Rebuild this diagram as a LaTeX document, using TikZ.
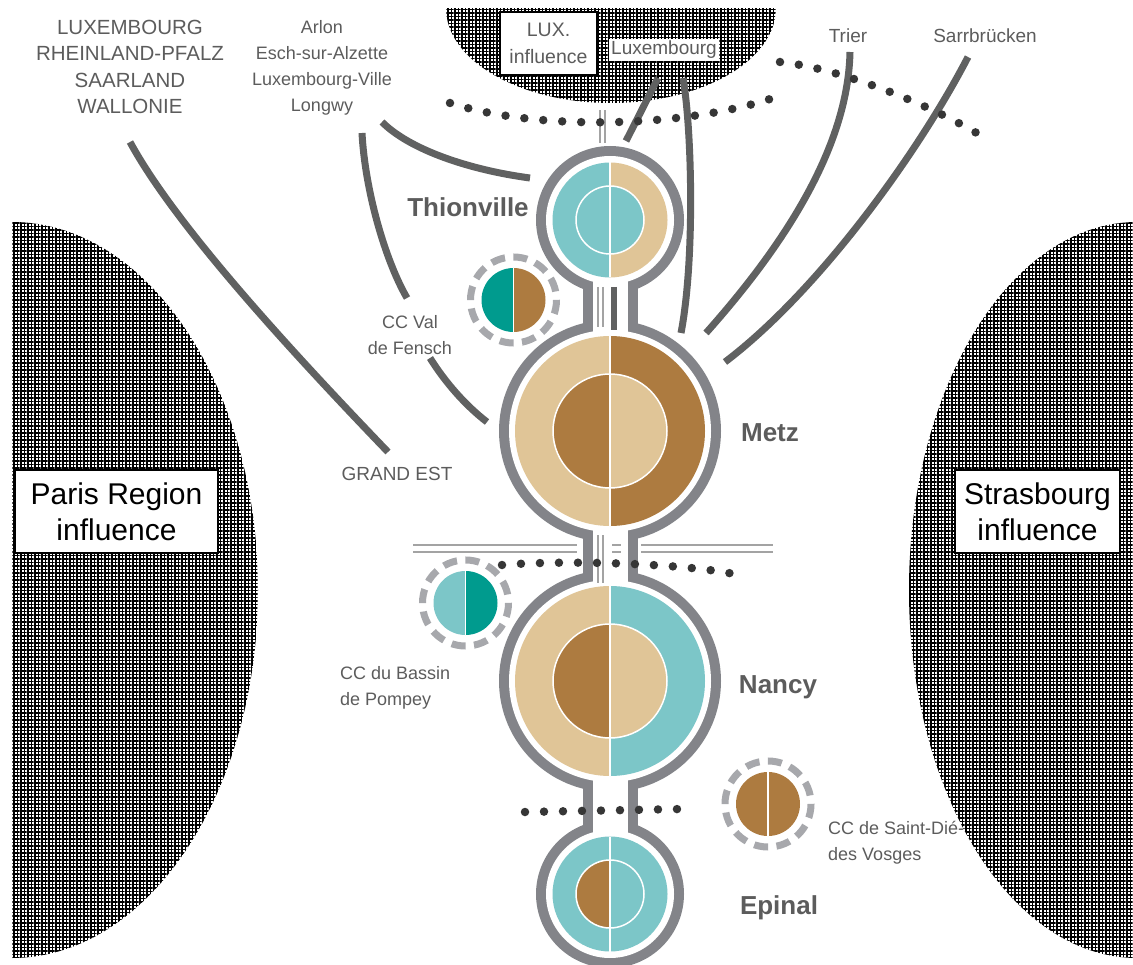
\documentclass[tikz,border=0pt]{standalone}
\usepackage{fontspec}
\setmainfont{Liberation Sans}
\usetikzlibrary{calc,patterns.meta}
\definecolor{teal1}{HTML}{7CC6C8}
\definecolor{tan1}{HTML}{E0C597}
\definecolor{brown1}{HTML}{AD7B40}
\definecolor{teal2}{HTML}{009B8E}
\definecolor{ringgray}{HTML}{838489}
\definecolor{conn}{HTML}{606161}
\definecolor{dotc}{HTML}{363636}
\definecolor{txt}{HTML}{5C5C5C}
\definecolor{dashgray}{HTML}{A7A8AC}
\definecolor{thinc}{HTML}{A3A3A3}
\newcommand\citydisk[7]{%
 \fill[#4] (#1) ++(0,-#2) arc[start angle=-90,end angle=-270,radius=#2] -- cycle;
 \fill[#5] (#1) ++(0,-#2) arc[start angle=-90,end angle=90,radius=#2] -- cycle;
 \fill[#6] (#1) ++(0,-#3) arc[start angle=-90,end angle=-270,radius=#3] -- cycle;
 \fill[#7] (#1) ++(0,-#3) arc[start angle=-90,end angle=90,radius=#3] -- cycle;
 \draw[white,line width=1.5pt] (#1) circle[radius=#3];
 \draw[white,line width=1.5pt] (#1) ++(0,-#2) -- ++(0,{2*#2});
}
\newcommand\ccdisk[3]{%
 \draw[dashgray,line width=7pt,dash pattern=on 14pt off 8.5pt] (#1) circle[radius=43];
 \fill[#2] (#1) ++(0,-32) arc[start angle=-90,end angle=-270,radius=32] -- cycle;
 \fill[#3] (#1) ++(0,-32) arc[start angle=-90,end angle=90,radius=32] -- cycle;
 \draw[white,line width=1.5pt] (#1) ++(0,-32) -- ++(0,64);
}
\begin{document}
\begin{tikzpicture}[x=1pt,y=-1pt,
  connector/.style={draw=conn,line width=7pt},
  dotline/.style={draw=dotc,line width=8.5pt,line cap=round,dash pattern=on 0pt off 19pt},
  thinline/.style={draw=thinc,line width=1.5pt},
  lbl/.style={text=txt,font=\fontsize{18}{26}\selectfont,align=center,inner sep=0pt},
  lblb/.style={text=txt,font=\fontsize{19}{26}\selectfont,align=center,inner sep=0pt},
  caps/.style={text=txt,font=\fontsize{20.5}{26.3}\selectfont,align=center,inner sep=0pt},
  city/.style={text=txt,font=\fontsize{26}{28}\selectfont\bfseries,inner sep=0pt},
  bigbox/.style={draw=black,line width=1.5pt,fill=white,align=center,text=black,
     font=\fontsize{30}{36}\selectfont,inner sep=0pt},
  hatch/.style={pattern={Hatch[distance=3.5pt,angle=0,line width=1.2pt]},pattern color=black}
]
\useasboundingbox (0,0) rectangle (1133,965);
% hatched influence areas
\fill[hatch] (12,222) arc[start angle=-90,end angle=90,x radius=246,y radius=368] -- cycle;
\fill[hatch] (1137,222) arc[start angle=-90,end angle=-270,x radius=228,y radius=368] -- cycle;
\fill[hatch] (446,8) arc[start angle=180,end angle=0,x radius=165,y radius=95] -- cycle;
% influence boxes
\node[bigbox,minimum width=203pt,minimum height=83pt] (paris) at (116.5,511.5) {Paris Region\\influence};
\node[bigbox,minimum width=165pt,minimum height=83pt] (stras) at (1037.5,511.5) {Strasbourg\\influence};
\node[draw=black,line width=1.5pt,fill=white,align=center,text=txt,font=\fontsize{19.5}{27}\selectfont,
   minimum width=97pt,minimum height=63pt,inner sep=0pt] (luxinf) at (548.5,43.5) {LUX.\\influence};
% centres
\coordinate (thion) at (610,220);
\coordinate (metz) at (610,431);
\coordinate (nancy) at (610,681);
\coordinate (epinal) at (610,894);
% chain outline
\fill[ringgray] (thion) circle[radius=74] (metz) circle[radius=111];
\fill[ringgray] (nancy) circle[radius=111] (epinal) circle[radius=74];
\fill[ringgray] (582.5,220) rectangle (637.5,894);
\fill[white] (thion) circle[radius=64] (metz) circle[radius=101];
\fill[white] (nancy) circle[radius=101] (epinal) circle[radius=64];
\fill[white] (592.5,220) rectangle (627.5,894);
% city disks
\citydisk{thion}{57.5}{34}{teal1}{tan1}{teal1}{teal1}
\citydisk{metz}{95}{57}{tan1}{brown1}{brown1}{tan1}
\citydisk{nancy}{95}{57}{tan1}{teal1}{brown1}{tan1}
\citydisk{epinal}{57.5}{34}{teal1}{teal1}{brown1}{teal1}
% border lines
\draw[thinline] (600,110) -- (600,143) (605,110) -- (605,143);
\draw[thinline] (598,287) -- (598,327) (603,287) -- (603,327);
\draw[conn,line width=6pt] (614,287) -- (614,330);
\draw[thinline] (598,535) -- (598,583) (603,535) -- (603,583);
\draw[thinline] (413,545) -- (577,545) (413,552) -- (577,552);
\draw[thinline] (612,545) -- (621,545) (612,552) -- (621,552);
\draw[thinline] (641,545) -- (773,545) (641,552) -- (773,552);
% labels
\node[caps] (regions) at (130,67) {LUXEMBOURG\\RHEINLAND-PFALZ\\SAARLAND\\WALLONIE};
\node[lbl] (cities) at (322,68) {Arlon\\Esch-sur-Alzette\\Luxembourg-Ville\\Longwy};
\node[lblb,fill=white,inner sep=2pt] (luxc) at (664,50) {Luxembourg};
\node[lblb] (trier) at (848,36) {Trier};
\node[lblb] (sarr) at (985,36) {Sarrbrücken};
\node[city] (thl) at (468,207) {Thionville};
\node[city] (metzl) at (770,433) {Metz};
\node[city] (nancyl) at (778,687) {Nancy};
\node[city] (epinall) at (779,908) {Epinal};
\node[lbl] (fensch) at (410,335) {CC Val\\de Fensch};
\node[lblb] (grandest) at (397,474) {GRAND EST};
\node[lbl,align=left,anchor=west] (pompey) at (340,688) {CC du Bassin\\de Pompey};
\node[lbl,align=left,anchor=west] (stdie) at (828,843) {CC de Saint-Dié-\\des Vosges};
% connector end points
\coordinate (r1) at (130,142);  \coordinate (g1) at (388,452);
\coordinate (l1) at (382,122);  \coordinate (t1) at (530,178);
\coordinate (l2) at (362,133);  \coordinate (f1) at (407,298);
\coordinate (f2) at (430,358);  \coordinate (m1) at (487,422);
\coordinate (x1) at (658,78);   \coordinate (t2) at (626,141);
\coordinate (x2) at (683,78);   \coordinate (m2) at (681,333);
\coordinate (tr1) at (850,52);  \coordinate (m3) at (706,333);
\coordinate (s1) at (968,57);   \coordinate (m4) at (725,362);
% connectors
\draw[connector] (r1) .. controls (175,225) and (290,350) .. (g1);
\draw[connector] (l1) .. controls (410,150) and (470,170) .. (t1);
\draw[connector] (l2) .. controls (365,190) and (385,260) .. (f1);
\draw[connector] (f2) .. controls (445,382) and (465,405) .. (m1);
\draw[connector] (x1) -- (t2);
\draw[connector] (x2) .. controls (692,130) and (695,260) .. (m2);
\draw[connector] (tr1) .. controls (848,150) and (780,250) .. (m3);
\draw[connector] (s1) .. controls (920,150) and (820,290) .. (m4);
% dotted lines
\draw[dotline] (450,103) .. controls (540,132) and (690,127) .. (776,97);
\draw[dotline] (780,62) .. controls (840,68) and (930,105) .. (980,135);
\draw[dotline] (502,565) .. controls (560,560) and (680,563) .. (734,574);
\draw[dotline] (525,812) -- (682,809);
% CC circles
\coordinate (ccf) at (513.5,300);
\coordinate (ccp) at (465.5,603);
\coordinate (ccs) at (768,804);
\ccdisk{ccf}{teal2}{brown1}
\ccdisk{ccp}{teal1}{teal2}
\ccdisk{ccs}{brown1}{brown1}
\end{tikzpicture}
\end{document}
